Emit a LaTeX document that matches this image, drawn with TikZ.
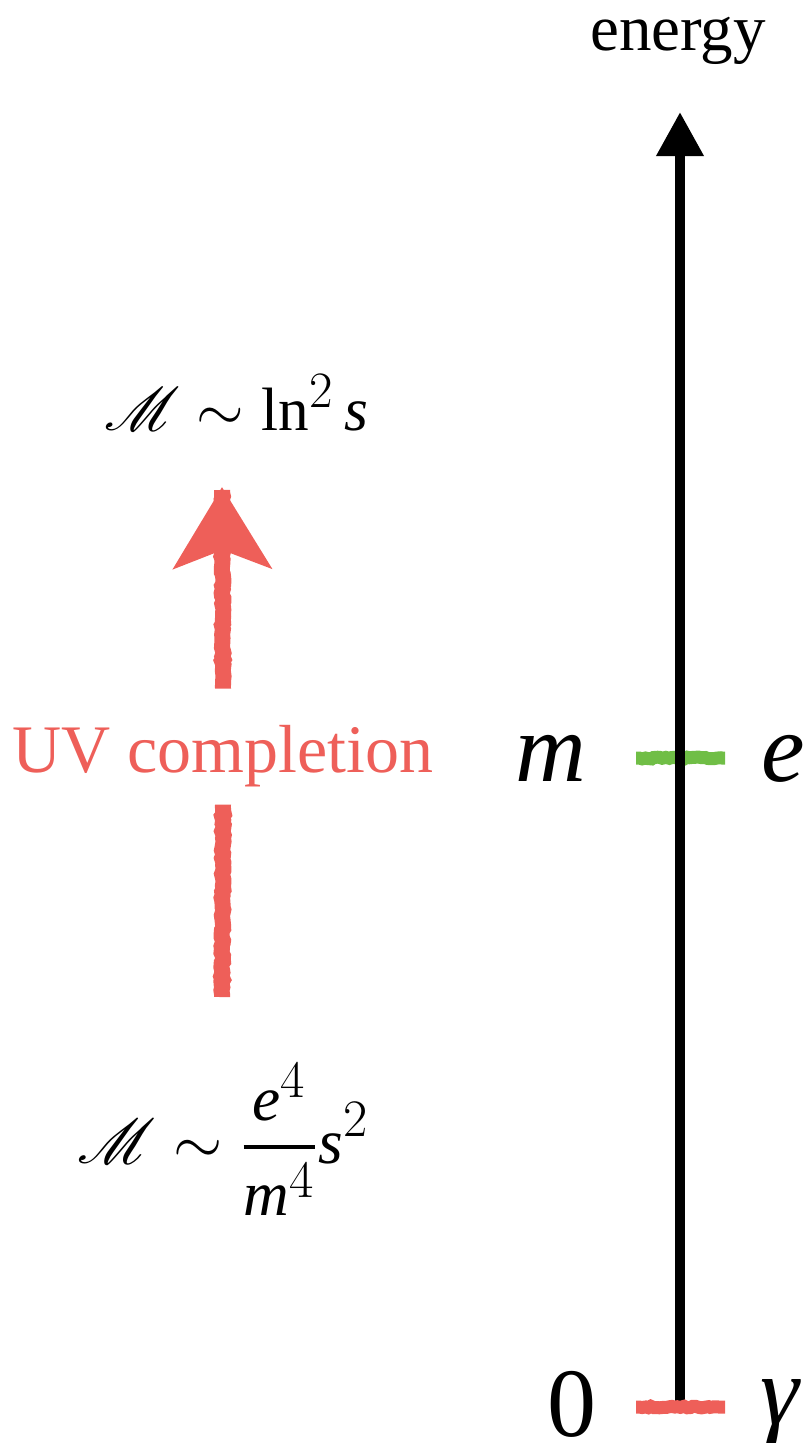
\documentclass[tikz,border=0pt]{standalone}
\usepackage{amsmath}
\usepackage{fontspec}
\setmainfont{Liberation Serif}
\usepackage{mathrsfs}
\usepackage[italic]{mathastext}
\usetikzlibrary{arrows.meta,decorations.pathmorphing}
\definecolor{uvred}{RGB}{238,95,89}
\definecolor{massgreen}{RGB}{112,190,70}
\tikzset{
  chalk/.style={line width=#1, decorate,
    decoration={random steps, segment length=3pt, amplitude=0.9pt, pre length=3pt, post length=3pt}},
  chalk/.default=13pt,
  biglab/.style={font=\fontsize{98}{100}\selectfont, inner sep=0pt},
  formula/.style={font=\fontsize{20.74}{25}\selectfont, scale=#1, inner sep=0pt}
}

\begin{document}
\begin{tikzpicture}[x=1pt, y=-1pt]
  \useasboundingbox (0, 0) rectangle (807, 1443);
  \coordinate (axisbot) at (680, 1405);
  \coordinate (axistop) at (680, 112);
  \coordinate (mleft) at (636, 758);
  \coordinate (mright) at (725, 758);
  \coordinate (zleft) at (636, 1407);
  \coordinate (zright) at (725, 1407);
  \draw[chalk, massgreen] (mleft) -- (mright);
  \draw[line width=10pt, -{Triangle[width=45pt, length=44pt]}] (axisbot) -- (axistop);
  \draw[chalk, uvred] (zleft) -- (zright);
  \node[anchor=base, font=\fontsize{65}{70}\selectfont, inner sep=0pt] (energy) at (678, 50) {energy};
  \node[biglab, anchor=base] (mlab) at (551, 781) {\textit{m}};
  \node[biglab, anchor=base] (elab) at (783, 781) {\textit{e}};
  \node[biglab, anchor=base] (zlab) at (572, 1436) {0};
  \node[biglab, anchor=base] (glab) at (781, 1424) {\textit{γ}};

  \node[formula=2.95, anchor=base] (amphigh) at (236, 430) {$\mathscr{M}\sim\ln^2 s$};
  \node[formula=3.05, anchor=base] (amplow) at (223, 1163) {$\displaystyle\mathscr{M}\sim\genfrac{}{}{1.5pt}{}{e^4}{m^4}s^2$};
  \node[anchor=base, font=\fontsize{68}{72}\selectfont, text=uvred, inner xsep=0pt, inner ysep=18pt] (uv) at (223, 772) {UV completion};
  \coordinate (uvtail) at (222, 997);
  \coordinate (uvtip) at (222, 487);
  \draw[chalk=16pt, uvred] (uvtail) -- (uv.south);
  \draw[chalk=16pt, uvred, -{Stealth[width=97pt, length=81pt, inset=18pt]}] ([yshift=18pt]uv.north) -- (uvtip);
\end{tikzpicture}
\end{document}
